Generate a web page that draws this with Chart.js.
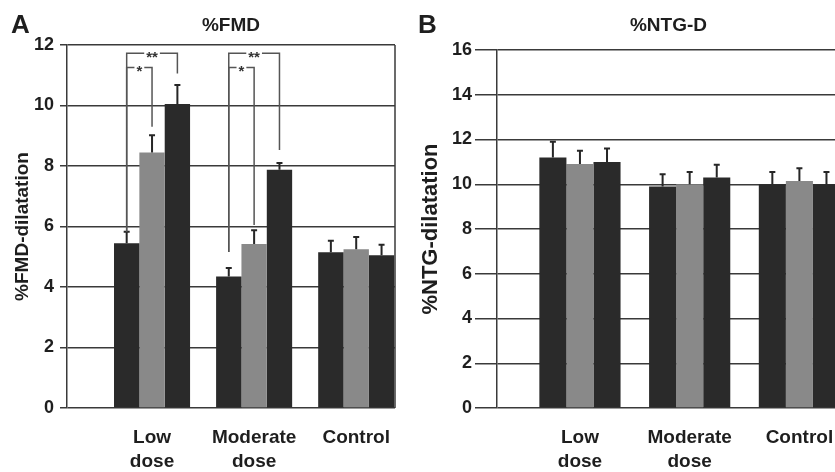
<!DOCTYPE html>
<html>
<head>
<meta charset="utf-8">
<script src="https://cdn.jsdelivr.net/npm/chart.js@4.4.1/dist/chart.umd.min.js"></script>
<style>
	html, body { margin: 0; padding: 0; background: #fff; overflow: hidden; }
	body { width: 835px; height: 472px; position: relative; }
	#wrapA { position: absolute; left: 0; top: 0; width: 410px; height: 472px; }
	#wrapB { position: absolute; left: 410px; top: 0; width: 500px; height: 472px; }
</style>
</head>
<body>
<div id="wrapA"><canvas id="fmdChart"></canvas></div>
<div id="wrapB"><canvas id="ntgChart"></canvas></div>
<script>
// Categories (x positions 1..3 on a linear axis)
const groupLabels = [ [ 'Low', 'dose' ], [ 'Moderate', 'dose' ], [ 'Control' ] ];
const groupPos = [ 1, 2, 3 ];
const seriesNames = [ 'Time 1', 'Time 2', 'Time 3' ];

// %FMD, one array per series, in group order
const fmdValues = [
	[ 5.45, 4.35, 5.15 ],
	[ 8.45, 5.42, 5.25 ],
	[ 10.05, 7.88, 5.05 ],
];
const fmdErrors = [
	[ 0.38, 0.28, 0.38 ],
	[ 0.57, 0.46, 0.4 ],
	[ 0.63, 0.22, 0.35 ],
];
const fmdTicks = [ 0, 2, 4, 6, 8, 10, 12 ];

// %NTG-D
const ntgValues = [
	[ 11.2, 9.9, 10.0 ],
	[ 10.9, 10.0, 10.15 ],
	[ 11.0, 10.3, 10.0 ],
];
const ntgErrors = [
	[ 0.7, 0.55, 0.55 ],
	[ 0.6, 0.55, 0.57 ],
	[ 0.6, 0.57, 0.55 ],
];
const ntgTicks = [ 0, 2, 4, 6, 8, 10, 12, 14, 16 ];

// Significance brackets on panel A
const bracketGroup = [ 0, 0, 1, 1 ];
const bracketFrom = [ 0, 0, 0, 0 ];
const bracketTo = [ 2, 1, 2, 1 ];
const bracketLevel = [ 11.73, 11.26, 11.73, 11.26 ];
const bracketLeftEnd = [ 5.83, 5.83, 5.16, 5.16 ];
const bracketRightEnd = [ 11.06, 9.3, 8.53, 6.05 ];
const bracketLabel = [ '**', '*', '**', '*' ];

const FONT = "'Liberation Sans', Arial, Helvetica, sans-serif";
const DARK = '#2a2a2a';
const GREY = '#898989';
const barColors = [ DARK, GREY, DARK ];
const lineColor = '#3a3a3a';

Chart.defaults.font.family = FONT;
Chart.defaults.color = '#1e1e1e';
Chart.defaults.animation = false;

// Error bars, panel letter, title, frame and brackets
const panelDecor = {
	id: 'panelDecor',
	afterDatasetsDraw( chart, args, opts ) {
		const ctx = chart.ctx;
		const yScale = chart.scales.y;
		const area = chart.chartArea;
		ctx.save();

		// right frame line
		ctx.strokeStyle = lineColor;
		ctx.lineWidth = 1.5;
		ctx.beginPath();
		ctx.moveTo( area.right, area.top );
		ctx.lineTo( area.right, area.bottom );
		ctx.stroke();

		// error bars (upper only)
		ctx.strokeStyle = '#262626';
		ctx.lineWidth = 2;
		opts.errors.forEach( ( errs, s ) => {
			const meta = chart.getDatasetMeta( s );
			meta.data.forEach( ( el, i ) => {
				const v = chart.data.datasets[ s ].data[ i ].y;
				const yTop = yScale.getPixelForValue( v + errs[ i ] );
				ctx.beginPath();
				ctx.moveTo( el.x, el.y );
				ctx.lineTo( el.x, yTop );
				ctx.moveTo( el.x - 3, yTop );
				ctx.lineTo( el.x + 3, yTop );
				ctx.stroke();
			} );
		} );

		// significance brackets
		if ( opts.brackets ) {
			ctx.strokeStyle = '#555';
			ctx.fillStyle = '#333';
			ctx.lineWidth = 1.5;
			ctx.font = 'bold 15px ' + FONT;
			ctx.textAlign = 'center';
			ctx.textBaseline = 'alphabetic';
			bracketGroup.forEach( ( g, k ) => {
				const x1 = chart.getDatasetMeta( bracketFrom[ k ] ).data[ g ].x;
				const x2 = chart.getDatasetMeta( bracketTo[ k ] ).data[ g ].x;
				const yl = yScale.getPixelForValue( bracketLevel[ k ] );
				const mid = ( x1 + x2 ) / 2;
				const half = ctx.measureText( bracketLabel[ k ] ).width / 2 + 2;
				ctx.beginPath();
				ctx.moveTo( x1, yScale.getPixelForValue( bracketLeftEnd[ k ] ) );
				ctx.lineTo( x1, yl );
				ctx.lineTo( mid - half, yl );
				ctx.moveTo( mid + half, yl );
				ctx.lineTo( x2, yl );
				ctx.lineTo( x2, yScale.getPixelForValue( bracketRightEnd[ k ] ) );
				ctx.stroke();
				ctx.fillText( bracketLabel[ k ], mid, yl + 9 );
			} );
		}

		// panel letter and title
		ctx.fillStyle = '#1e1e1e';
		ctx.textBaseline = 'alphabetic';
		ctx.textAlign = 'left';
		ctx.font = 'bold 26px ' + FONT;
		ctx.fillText( opts.letter, opts.letterX, 33 );
		ctx.textAlign = 'center';
		ctx.textBaseline = 'middle';
		ctx.font = 'bold 19px ' + FONT;
		ctx.fillText( opts.title, ( area.left + area.right ) / 2, 26 );
		ctx.restore();
	},
};

function buildPanel( canvasId, cfg ) {
	const ctx = document.getElementById( canvasId ).getContext( '2d' );
	return new Chart( ctx, {
		type: 'bar',
		data: {
			datasets: cfg.values.map( ( vals, s ) => ( {
				label: seriesNames[ s ],
				data: groupPos.map( ( x, i ) => ( { x, y: vals[ i ] } ) ),
				backgroundColor: barColors[ s ],
				borderWidth: 0,
				categoryPercentage: cfg.catPct,
				barPercentage: 1,
			} ) ),
		},
		options: {
			responsive: true,
			maintainAspectRatio: false,
			devicePixelRatio: 1,
			layout: { padding: cfg.padding },
			plugins: {
				legend: { display: false },
				tooltip: { enabled: false },
				panelDecor: {
					letter: cfg.letter,
					letterX: cfg.letterX,
					title: cfg.title,
					errors: cfg.errors,
					brackets: cfg.brackets,
				},
			},
			scales: {
				x: {
					type: 'linear',
					offset: false,
					min: cfg.xMin,
					max: cfg.xMax,
					afterBuildTicks: ( scale ) => {
						scale.ticks = groupPos.map( ( v ) => ( { value: v } ) );
					},
					afterFit: ( scale ) => {
						scale.height = 64;
					},
					grid: { display: false, drawTicks: false },
					border: { display: false },
					ticks: {
						padding: 18,
						maxRotation: 0,
						autoSkip: false,
						font: { size: 19, weight: 'bold', lineHeight: 1.26 },
						color: '#1e1e1e',
						callback: ( value, index ) => groupLabels[ index ],
					},
				},
				y: {
					min: 0,
					max: cfg.ticks[ cfg.ticks.length - 1 ],
					afterBuildTicks: ( scale ) => {
						scale.ticks = cfg.ticks.map( ( v ) => ( { value: v } ) );
					},
					afterFit: ( scale ) => {
						scale.width = cfg.yWidth;
					},
					grid: {
						color: lineColor,
						lineWidth: 1.5,
						tickLength: cfg.tickLength,
					},
					border: { display: true, color: lineColor, width: 1.5 },
					ticks: {
						padding: cfg.tickPad,
						font: { size: 18, weight: 'bold' },
						color: '#1e1e1e',
					},
					title: {
						display: true,
						text: cfg.yTitle,
						font: { size: cfg.yTitleSize, weight: 'bold' },
						color: '#1e1e1e',
						padding: { top: cfg.yTitlePad, bottom: 0 },
					},
				},
			},
		},
		plugins: [ panelDecor ],
	} );
}

buildPanel( 'fmdChart', {
	values: fmdValues,
	errors: fmdErrors,
	ticks: fmdTicks,
	letter: 'A',
	letterX: 11,
	title: '%FMD',
	yTitle: '%FMD-dilatation',
	yTitleSize: 19,
	yTitlePad: 11,
	yWidth: 67,
	tickLength: 7,
	tickPad: 6,
	xMin: 0.167,
	xMax: 3.38,
	catPct: 0.745,
	padding: { top: 45, right: 15, bottom: 0, left: 0 },
	brackets: true,
} );

buildPanel( 'ntgChart', {
	values: ntgValues,
	errors: ntgErrors,
	ticks: ntgTicks,
	letter: 'B',
	letterX: 8,
	title: '%NTG-D',
	yTitle: '%NTG-dilatation',
	yTitleSize: 22,
	yTitlePad: 8,
	yWidth: 87,
	tickLength: 22,
	tickPad: 3,
	xMin: 0.244,
	xMax: 3.37,
	catPct: 0.74,
	padding: { top: 50, right: 70, bottom: 0, left: 0 },
	brackets: false,
} );
</script>
</body>
</html>
